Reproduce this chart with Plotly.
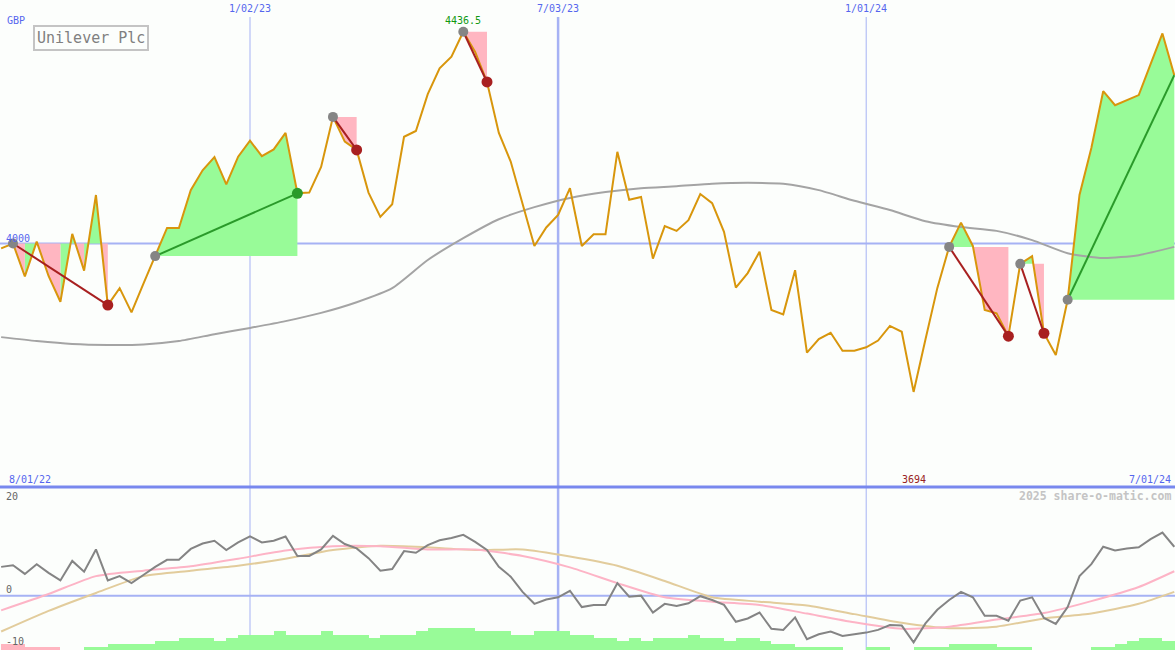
import plotly.graph_objects as go
import pandas as pd

# ---------------- data ----------------
start_date = "2022-08-08"   # first weekly close (Mondays)
n_weeks = 100

price = [3990, 4000, 3932, 4004, 3933, 3880, 4020, 3944, 4100, 3873,
         3908, 3858, 3917, 3974, 4032, 4032, 4110, 4151, 4178, 4122,
         4179, 4212, 4180, 4194, 4228, 4103.5, 4105, 4158, 4261, 4210,
         4193, 4105, 4055, 4081, 4220, 4232, 4308, 4361, 4385, 4436.5,
         4395, 4333, 4228, 4169, 4083, 3995, 4033, 4059, 4114, 3995,
         4019, 4019, 4189, 4090, 4096, 3969, 4036, 4026, 4048, 4102,
         4083, 4024, 3909, 3939, 3983, 3863, 3854, 3945, 3775, 3803,
         3816, 3779, 3779, 3786, 3800, 3830, 3818, 3694, 3802, 3908,
         3993, 4043, 3995, 3863, 3856, 3809, 3958, 3974, 3815, 3770,
         3884, 4100, 4197, 4314, 4285, 4296, 4306, 4370, 4433, 4347]

# long moving average, sampled every 3 weeks
ma_weeks = list(range(0, 100, 3))
ma_values = [3807, 3799, 3793, 3791, 3792, 3799, 3813, 3826, 3840, 3857,
             3879, 3908, 3966, 4011, 4050, 4075, 4094, 4106, 4114, 4118,
             4123, 4125, 4123, 4110, 4088, 4069, 4046, 4034, 4026, 4007,
             3980, 3970, 3976, 3993]

# lower panel oscillator (weekly)
osc = [5.3, 5.6, 4.0, 5.8, 4.2, 2.8, 6.4, 4.4, 8.5, 2.8,
       3.6, 2.3, 3.8, 5.3, 6.6, 6.6, 8.6, 9.6, 10.1, 8.4,
       9.8, 10.9, 9.8, 10.1, 10.9, 7.3, 7.3, 8.5, 11.0, 9.5,
       8.7, 6.9, 4.6, 4.9, 8.2, 7.9, 9.3, 10.2, 10.6, 11.2,
       9.9, 8.4, 5.3, 3.5, 0.7, -1.5, -0.7, -0.3, 0.9, -2.1,
       -1.7, -1.7, 2.3, -0.2, 0.0, -3.1, -1.5, -1.9, -1.4, -0.1,
       -0.8, -1.7, -4.8, -4.2, -3.1, -6.1, -6.3, -4.0, -8.0, -7.1,
       -6.6, -7.4, -7.1, -6.8, -6.3, -5.4, -5.5, -8.6, -5.1, -2.6,
       -0.8, 0.7, -0.3, -3.7, -3.7, -4.6, -0.9, -0.3, -4.1, -5.2,
       -2.1, 3.6, 5.8, 9.0, 8.3, 8.7, 8.9, 10.4, 11.6, 9.0]

# smoothed signal lines, sampled every 4 weeks (+ last week)
sig_weeks = list(range(0, 100, 4)) + [99]
sig_pink = [-2.7, 0.3, 3.6, 4.6, 5.4, 6.8, 8.3, 9.1, 9.1, 8.5,
            8.5, 7.3, 5.2, 2.3, -0.3, -1.1, -1.7, -3.3, -4.9, -6.1,
            -5.7, -4.4, -3.2, -1.0, 1.6, 4.5]
sig_tan = [-6.6, -2.8, 0.5, 3.6, 4.6, 5.5, 6.8, 8.4, 9.2, 8.9,
           8.4, 8.5, 7.2, 5.5, 2.7, -0.3, -1.1, -1.8, -3.4, -5.0,
           -6.0, -5.7, -4.2, -3.3, -1.5, 0.7]

# weekly histogram (height above -10 floor; negative = pink)
hist = [-1.16, -1.16, -0.5, -0.5, -0.5, 0, 0, 0.5, 0.5, 1.16,
        1.16, 1.16, 1.16, 1.71, 1.71, 2.26, 2.26, 2.26, 1.71, 2.26,
        2.82, 2.82, 2.82, 3.5, 2.82, 2.82, 2.82, 3.5, 2.82, 2.82,
        2.82, 2.26, 2.82, 2.82, 2.82, 3.5, 4.1, 4.1, 4.1, 4.1,
        3.5, 3.5, 3.5, 2.82, 2.82, 3.5, 3.5, 3.5, 2.82, 2.82,
        2.26, 2.26, 1.71, 2.26, 1.71, 2.26, 2.26, 2.26, 2.82, 2.26,
        2.26, 1.71, 2.26, 2.26, 1.71, 1.16, 1.16, 0.5, 0.5, 0.5,
        0.5, 0, 0, 0.5, 0.5, 0, 0, 0.5, 0.5, 0.5,
        1.16, 1.16, 1.16, 1.16, 0.5, 0.5, 0.5, 0, 0, 0,
        0, 0, 0.5, 0.5, 1.16, 1.71, 2.26, 2.26, 1.71, 1.71]

# trades: entry week, exit week (None = still open)
trade_entry = [1, 13, 28, 39, 80, 86, 90]
trade_exit = [9, 25, 30, 41, 85, 88, None]

month_lines = ["2023-01-02", "2023-07-03", "2024-01-01"]
month_labels = ["1/02/23", "7/03/23", "1/01/24"]
month_widths = [1, 2.5, 1]
range_labels = ["8/01/22", "7/01/24"]
title_text = "Unilever Plc"
currency = "GBP"
credit = "2025 share-o-matic.com"

# ---------------- helpers ----------------
t0 = pd.Timestamp(start_date)


def wdate(w):
    return t0 + pd.Timedelta(days=7 * w)


dates = [wdate(i) for i in range(n_weeks)]

W, H = 1175, 650
BG = "#fcfefc"
BLUE_LINE = "#a6b2f4"
BLUE_TXT = "#5566ee"
GREEN_FILL = "#98fb98"
PINK_FILL = "#ffb6c1"
MONO = "DejaVu Sans Mono"

fig = go.Figure()

# ---- trade fills ----
gx, gy, px_, py_ = [], [], [], []
for e, x in zip(trade_entry, trade_exit):
    end = x if x is not None else n_weeks - 1
    L = price[e]
    for j in range(e, end):
        p0, p1 = price[j], price[j + 1]
        pieces = []
        if (p0 - L) * (p1 - L) < 0:
            t = (L - p0) / (p1 - p0)
            pieces.append((j, p0, j + t, L))
            pieces.append((j + t, L, j + 1, p1))
        else:
            pieces.append((j, p0, j + 1, p1))
        for (xa, pa, xb, pb) in pieces:
            above = (pa + pb) / 2 > L
            green = above or (p1 > p0)
            xs = [wdate(xa), wdate(xa), wdate(xb), wdate(xb), None]
            ys = [L, pa, pb, L, None]
            if green:
                gx += xs
                gy += ys
            else:
                px_ += xs
                py_ += ys

fig.add_trace(go.Scatter(x=gx, y=gy, fill="toself", fillcolor=GREEN_FILL,
                         mode="lines", line=dict(width=0, color=GREEN_FILL),
                         hoverinfo="skip", showlegend=False))
fig.add_trace(go.Scatter(x=px_, y=py_, fill="toself", fillcolor=PINK_FILL,
                         mode="lines", line=dict(width=0, color=PINK_FILL),
                         hoverinfo="skip", showlegend=False))

# ---- moving average ----
fig.add_trace(go.Scatter(x=[wdate(w) for w in ma_weeks], y=ma_values, mode="lines",
                         line=dict(color="#a4a4a4", width=2, shape="spline", smoothing=0.6),
                         hoverinfo="skip", showlegend=False))

# ---- price ----
fig.add_trace(go.Scatter(x=dates, y=price, mode="lines",
                         line=dict(color="#d8960c", width=2),
                         hoverinfo="skip", showlegend=False))

# ---- trade lines and markers ----
for e, x in zip(trade_entry, trade_exit):
    end = x if x is not None else n_weeks - 1
    win = price[end] > price[e]
    col = "#2a9a2a" if win else "#a82020"
    fig.add_trace(go.Scatter(x=[dates[e], dates[end]], y=[price[e], price[end]],
                             mode="lines", line=dict(color=col, width=2),
                             hoverinfo="skip", showlegend=False))
    if x is not None:
        fig.add_trace(go.Scatter(x=[dates[end]], y=[price[end]], mode="markers",
                                 marker=dict(color=col, size=11, line=dict(width=0)),
                                 hoverinfo="skip", showlegend=False))
    fig.add_trace(go.Scatter(x=[dates[e]], y=[price[e]], mode="markers",
                             marker=dict(color="#858585", size=10, line=dict(width=0)),
                             hoverinfo="skip", showlegend=False))

# ---- lower panel ----
bar_x = [t0 + pd.Timedelta(days=7 * i + 3.5) for i in range(n_weeks)]
fig.add_trace(go.Bar(x=bar_x, y=[abs(h) for h in hist], base=-10,
                     width=7 * 24 * 3600 * 1000,
                     marker=dict(color=[GREEN_FILL if h >= 0 else PINK_FILL for h in hist],
                                 line=dict(width=0)),
                     yaxis="y2", hoverinfo="skip", showlegend=False))
fig.add_trace(go.Scatter(x=[wdate(w) for w in sig_weeks], y=sig_tan, mode="lines", yaxis="y2",
                         line=dict(color="#e2cc9c", width=2, shape="spline", smoothing=0.6),
                         hoverinfo="skip", showlegend=False))
fig.add_trace(go.Scatter(x=[wdate(w) for w in sig_weeks], y=sig_pink, mode="lines", yaxis="y2",
                         line=dict(color="#fdb4c6", width=2, shape="spline", smoothing=0.6),
                         hoverinfo="skip", showlegend=False))
fig.add_trace(go.Scatter(x=dates, y=osc, mode="lines", yaxis="y2",
                         line=dict(color="#848484", width=2),
                         hoverinfo="skip", showlegend=False))

# ---- shapes ----
split = 1 - 487 / H
shapes = []
for d, wdt in zip(month_lines, month_widths):
    shapes.append(dict(type="line", xref="x", yref="paper", x0=d, x1=d,
                       y0=0, y1=1 - 17 / H, line=dict(color=BLUE_LINE, width=wdt), layer="below"))
shapes.append(dict(type="line", xref="paper", yref="y", x0=0, x1=1, y0=4000, y1=4000,
                   line=dict(color=BLUE_LINE, width=2), layer="below"))
shapes.append(dict(type="line", xref="paper", yref="y2", x0=0, x1=1, y0=0, y1=0,
                   line=dict(color=BLUE_LINE, width=2), layer="below"))
shapes.append(dict(type="line", xref="paper", yref="paper", x0=0, x1=1, y0=split, y1=split,
                   line=dict(color="#7888ee", width=3), layer="above"))

# ---- annotations ----
def ann(text, x, y, color, size=10, xanchor="left", xref="paper", yref="paper", bold=False, **kw):
    return dict(text=("<b>%s</b>" % text) if bold else text, x=x, y=y, xref=xref, yref=yref,
                xanchor=xanchor, yanchor="middle", showarrow=False,
                font=dict(family=MONO, size=size, color=color), **kw)

annotations = [
    ann(currency, 5 / W, 1 - 20 / H, BLUE_TXT),
    ann(range_labels[0], 7 / W, 1 - 479 / H, BLUE_TXT),
    ann(range_labels[1], 1173 / W, 1 - 479 / H, BLUE_TXT, xanchor="right"),
    ann("4000", 4 / W, 1 - 238 / H, BLUE_TXT),
    ann("%g" % max(price), dates[price.index(max(price))], 1 - 20 / H, "#119911",
        xanchor="center", xref="x"),
    ann("%g" % min(price), dates[price.index(min(price))], 1 - 479 / H, "#992222",
        xanchor="center", xref="x"),
    ann(credit, 1173 / W, 1 - 496 / H, "#c4c4c4", size=11.5, xanchor="right", bold=True),
    ann("20", 4 / W, 1 - 496 / H, "#666666"),
    ann("0", 4 / W, 1 - 589 / H, "#666666"),
    ann("-10", 4 / W, 1 - 641 / H, "#666666"),
]
for d, lab in zip(month_lines, month_labels):
    annotations.append(ann(lab, d, 1 - 9 / H, BLUE_TXT, xanchor="center", xref="x"))
annotations.append(dict(text=title_text, x=33 / W, y=1 - 25 / H, xref="paper", yref="paper",
                        xanchor="left", yanchor="top", showarrow=False,
                        font=dict(family=MONO, size=15, color="#808080"),
                        bordercolor="#c4c4c4", borderwidth=2, borderpad=2, bgcolor=BG))

fig.update_layout(
    width=W, height=H, autosize=False,
    margin=dict(l=0, r=0, t=0, b=0, pad=0),
    paper_bgcolor=BG, plot_bgcolor=BG,
    bargap=0, showlegend=False,
    xaxis=dict(type="date", range=["2022-08-07 07:40", "2024-07-01 10:00"],
               visible=False, showgrid=False, zeroline=False, fixedrange=True),
    yaxis=dict(range=[3498, 4502], domain=[split, 1], visible=False,
               showgrid=False, zeroline=False),
    yaxis2=dict(range=[-10, 20], domain=[0, split], anchor="x", visible=False,
                showgrid=False, zeroline=False),
    shapes=shapes, annotations=annotations,
)

fig.write_html("out.html",
               config={"displayModeBar": False, "staticPlot": True},
               post_script="document.body.style.margin='0';document.body.style.background='%s';" % BG)
